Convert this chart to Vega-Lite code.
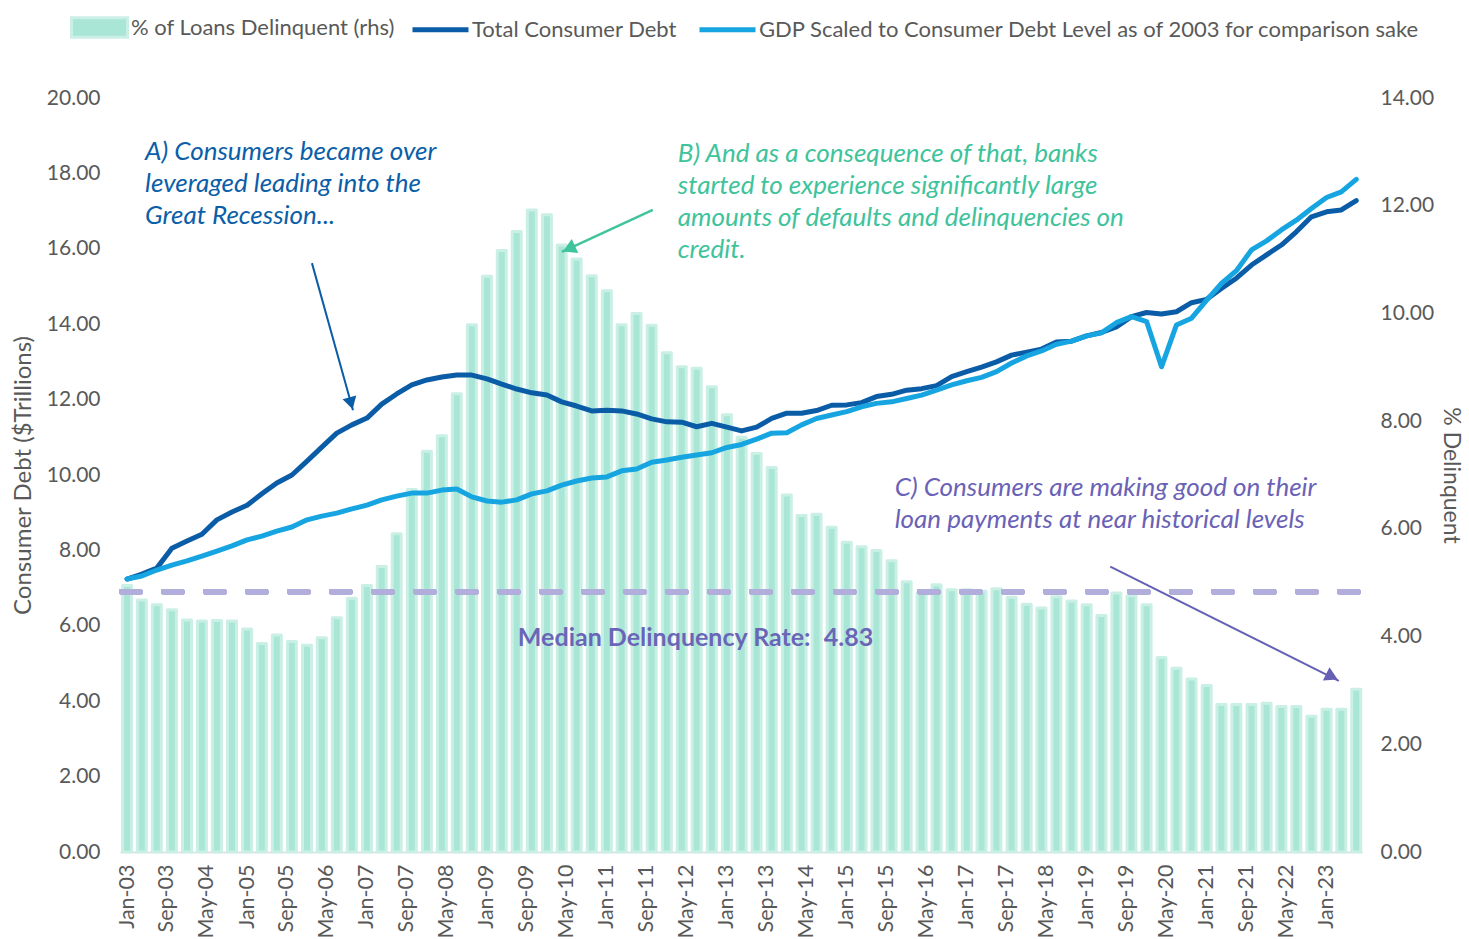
{
  "$schema": "https://vega.github.io/schema/vega-lite/v6.json",
  "width": 1242,
  "height": 754,
  "autosize": {"type": "none"},
  "padding": {"left": 120, "top": 98, "right": 107, "bottom": 87},
  "background": "white",
  "config": {
    "view": {"stroke": null},
    "font": "Lato",
    "axis": {"labelFont": "Lato", "titleFont": "Lato", "labelColor": "#595959", "titleColor": "#595959", "grid": false, "ticks": false, "labelFontSize": 21, "titleFontSize": 24, "titleFontWeight": "normal"},
    "legend": {"labelFont": "Lato", "labelFontSize": 22, "labelColor": "#595959", "padding": 0, "labelLimit": 1000}
  },
  "datasets": {
    "q": [
      {"date": "2003-01-01", "rate": 4.95, "debt": 7.24, "gdp": 7.24},
      {"date": "2003-04-01", "rate": 4.68, "debt": 7.37, "gdp": 7.32},
      {"date": "2003-07-01", "rate": 4.59, "debt": 7.53, "gdp": 7.48},
      {"date": "2003-10-01", "rate": 4.50, "debt": 8.06, "gdp": 7.61},
      {"date": "2004-01-01", "rate": 4.31, "debt": 8.25, "gdp": 7.72},
      {"date": "2004-04-01", "rate": 4.29, "debt": 8.43, "gdp": 7.85},
      {"date": "2004-07-01", "rate": 4.30, "debt": 8.81, "gdp": 7.98},
      {"date": "2004-10-01", "rate": 4.29, "debt": 9.02, "gdp": 8.12},
      {"date": "2005-01-01", "rate": 4.14, "debt": 9.20, "gdp": 8.28},
      {"date": "2005-04-01", "rate": 3.87, "debt": 9.50, "gdp": 8.38},
      {"date": "2005-07-01", "rate": 4.03, "debt": 9.79, "gdp": 8.51},
      {"date": "2005-10-01", "rate": 3.91, "debt": 10.00, "gdp": 8.62},
      {"date": "2006-01-01", "rate": 3.84, "debt": 10.37, "gdp": 8.81},
      {"date": "2006-04-01", "rate": 3.98, "debt": 10.74, "gdp": 8.91},
      {"date": "2006-07-01", "rate": 4.35, "debt": 11.11, "gdp": 8.99},
      {"date": "2006-10-01", "rate": 4.71, "debt": 11.33, "gdp": 9.10},
      {"date": "2007-01-01", "rate": 4.95, "debt": 11.51, "gdp": 9.20},
      {"date": "2007-04-01", "rate": 5.30, "debt": 11.88, "gdp": 9.34},
      {"date": "2007-07-01", "rate": 5.91, "debt": 12.15, "gdp": 9.44},
      {"date": "2007-10-01", "rate": 6.73, "debt": 12.39, "gdp": 9.52},
      {"date": "2008-01-01", "rate": 7.44, "debt": 12.52, "gdp": 9.52},
      {"date": "2008-04-01", "rate": 7.73, "debt": 12.60, "gdp": 9.60},
      {"date": "2008-07-01", "rate": 8.51, "debt": 12.65, "gdp": 9.63},
      {"date": "2008-10-01", "rate": 9.79, "debt": 12.65, "gdp": 9.42},
      {"date": "2009-01-01", "rate": 10.69, "debt": 12.55, "gdp": 9.31},
      {"date": "2009-04-01", "rate": 11.17, "debt": 12.41, "gdp": 9.28},
      {"date": "2009-07-01", "rate": 11.52, "debt": 12.28, "gdp": 9.34},
      {"date": "2009-10-01", "rate": 11.92, "debt": 12.18, "gdp": 9.50},
      {"date": "2010-01-01", "rate": 11.83, "debt": 12.12, "gdp": 9.58},
      {"date": "2010-04-01", "rate": 11.27, "debt": 11.94, "gdp": 9.73},
      {"date": "2010-07-01", "rate": 11.01, "debt": 11.83, "gdp": 9.84},
      {"date": "2010-10-01", "rate": 10.70, "debt": 11.70, "gdp": 9.92},
      {"date": "2011-01-01", "rate": 10.42, "debt": 11.72, "gdp": 9.95},
      {"date": "2011-04-01", "rate": 9.79, "debt": 11.70, "gdp": 10.11},
      {"date": "2011-07-01", "rate": 10.00, "debt": 11.62, "gdp": 10.16},
      {"date": "2011-10-01", "rate": 9.78, "debt": 11.49, "gdp": 10.34},
      {"date": "2012-01-01", "rate": 9.27, "debt": 11.41, "gdp": 10.40},
      {"date": "2012-04-01", "rate": 9.01, "debt": 11.40, "gdp": 10.47},
      {"date": "2012-07-01", "rate": 8.98, "debt": 11.28, "gdp": 10.53},
      {"date": "2012-10-01", "rate": 8.64, "debt": 11.37, "gdp": 10.59},
      {"date": "2013-01-01", "rate": 8.12, "debt": 11.27, "gdp": 10.73},
      {"date": "2013-04-01", "rate": 7.70, "debt": 11.17, "gdp": 10.81},
      {"date": "2013-07-01", "rate": 7.40, "debt": 11.27, "gdp": 10.95},
      {"date": "2013-10-01", "rate": 7.14, "debt": 11.50, "gdp": 11.11},
      {"date": "2014-01-01", "rate": 6.63, "debt": 11.64, "gdp": 11.12},
      {"date": "2014-04-01", "rate": 6.25, "debt": 11.64, "gdp": 11.33},
      {"date": "2014-07-01", "rate": 6.27, "debt": 11.71, "gdp": 11.50},
      {"date": "2014-10-01", "rate": 6.03, "debt": 11.85, "gdp": 11.59},
      {"date": "2015-01-01", "rate": 5.75, "debt": 11.86, "gdp": 11.68},
      {"date": "2015-04-01", "rate": 5.67, "debt": 11.92, "gdp": 11.81},
      {"date": "2015-07-01", "rate": 5.60, "debt": 12.08, "gdp": 11.90},
      {"date": "2015-10-01", "rate": 5.41, "debt": 12.14, "gdp": 11.94},
      {"date": "2016-01-01", "rate": 5.02, "debt": 12.25, "gdp": 12.03},
      {"date": "2016-04-01", "rate": 4.82, "debt": 12.29, "gdp": 12.12},
      {"date": "2016-07-01", "rate": 4.96, "debt": 12.37, "gdp": 12.25},
      {"date": "2016-10-01", "rate": 4.87, "debt": 12.61, "gdp": 12.39},
      {"date": "2017-01-01", "rate": 4.87, "debt": 12.74, "gdp": 12.50},
      {"date": "2017-04-01", "rate": 4.84, "debt": 12.86, "gdp": 12.59},
      {"date": "2017-07-01", "rate": 4.89, "debt": 13.00, "gdp": 12.74},
      {"date": "2017-10-01", "rate": 4.73, "debt": 13.18, "gdp": 12.97},
      {"date": "2018-01-01", "rate": 4.60, "debt": 13.26, "gdp": 13.16},
      {"date": "2018-04-01", "rate": 4.53, "debt": 13.34, "gdp": 13.29},
      {"date": "2018-07-01", "rate": 4.74, "debt": 13.53, "gdp": 13.47},
      {"date": "2018-10-01", "rate": 4.66, "debt": 13.55, "gdp": 13.55},
      {"date": "2019-01-01", "rate": 4.59, "debt": 13.69, "gdp": 13.69},
      {"date": "2019-04-01", "rate": 4.39, "debt": 13.78, "gdp": 13.77},
      {"date": "2019-07-01", "rate": 4.81, "debt": 13.93, "gdp": 14.04},
      {"date": "2019-10-01", "rate": 4.76, "debt": 14.20, "gdp": 14.20},
      {"date": "2020-01-01", "rate": 4.59, "debt": 14.31, "gdp": 14.07},
      {"date": "2020-04-01", "rate": 3.61, "debt": 14.27, "gdp": 12.87},
      {"date": "2020-07-01", "rate": 3.41, "debt": 14.33, "gdp": 13.98},
      {"date": "2020-10-01", "rate": 3.21, "debt": 14.57, "gdp": 14.16},
      {"date": "2021-01-01", "rate": 3.09, "debt": 14.66, "gdp": 14.64},
      {"date": "2021-04-01", "rate": 2.74, "debt": 14.95, "gdp": 15.08},
      {"date": "2021-07-01", "rate": 2.74, "debt": 15.22, "gdp": 15.42},
      {"date": "2021-10-01", "rate": 2.74, "debt": 15.57, "gdp": 15.97},
      {"date": "2022-01-01", "rate": 2.76, "debt": 15.84, "gdp": 16.21},
      {"date": "2022-04-01", "rate": 2.70, "debt": 16.10, "gdp": 16.50},
      {"date": "2022-07-01", "rate": 2.70, "debt": 16.45, "gdp": 16.76},
      {"date": "2022-10-01", "rate": 2.52, "debt": 16.85, "gdp": 17.07},
      {"date": "2023-01-01", "rate": 2.65, "debt": 16.98, "gdp": 17.36},
      {"date": "2023-04-01", "rate": 2.65, "debt": 17.03, "gdp": 17.51},
      {"date": "2023-07-01", "rate": 3.02, "debt": 17.28, "gdp": 17.84}
    ]
  },
  "encoding": {
    "x": {"field": "date", "type": "temporal",
      "scale": {"type": "utc", "padding": 0, "domain": [{"year": 2002, "month": 11, "date": 19, "utc": true}, {"year": 2023, "month": 8, "date": 5, "utc": true}]},
      "axis": {"title": null, "format": "%b-%y", "labelAngle": -90, "labelPadding": 12, "labelOverlap": false, "labelFontSize": 21.5, "domainColor": "#d9d9d9", "domainWidth": 1.5,
        "values": [
          {"year": 2003, "month": 1, "date": 1, "utc": true}, {"year": 2003, "month": 9, "date": 1, "utc": true}, {"year": 2004, "month": 5, "date": 1, "utc": true},
          {"year": 2005, "month": 1, "date": 1, "utc": true}, {"year": 2005, "month": 9, "date": 1, "utc": true}, {"year": 2006, "month": 5, "date": 1, "utc": true},
          {"year": 2007, "month": 1, "date": 1, "utc": true}, {"year": 2007, "month": 9, "date": 1, "utc": true}, {"year": 2008, "month": 5, "date": 1, "utc": true},
          {"year": 2009, "month": 1, "date": 1, "utc": true}, {"year": 2009, "month": 9, "date": 1, "utc": true}, {"year": 2010, "month": 5, "date": 1, "utc": true},
          {"year": 2011, "month": 1, "date": 1, "utc": true}, {"year": 2011, "month": 9, "date": 1, "utc": true}, {"year": 2012, "month": 5, "date": 1, "utc": true},
          {"year": 2013, "month": 1, "date": 1, "utc": true}, {"year": 2013, "month": 9, "date": 1, "utc": true}, {"year": 2014, "month": 5, "date": 1, "utc": true},
          {"year": 2015, "month": 1, "date": 1, "utc": true}, {"year": 2015, "month": 9, "date": 1, "utc": true}, {"year": 2016, "month": 5, "date": 1, "utc": true},
          {"year": 2017, "month": 1, "date": 1, "utc": true}, {"year": 2017, "month": 9, "date": 1, "utc": true}, {"year": 2018, "month": 5, "date": 1, "utc": true},
          {"year": 2019, "month": 1, "date": 1, "utc": true}, {"year": 2019, "month": 9, "date": 1, "utc": true}, {"year": 2020, "month": 5, "date": 1, "utc": true},
          {"year": 2021, "month": 1, "date": 1, "utc": true}, {"year": 2021, "month": 9, "date": 1, "utc": true}, {"year": 2022, "month": 5, "date": 1, "utc": true},
          {"year": 2023, "month": 1, "date": 1, "utc": true}
        ]}}
  },
  "resolve": {"scale": {"y": "independent"}},
  "layer": [
    {
      "data": {"name": "q"},
      "encoding": {
        "y": {"field": "rate", "type": "quantitative", "scale": {"domain": [0, 14]},
          "axis": {"orient": "right", "title": "% Delinquent", "titleFontSize": 23, "values": [0, 2, 4, 6, 8, 10, 12, 14], "format": ".2f", "labelPadding": 18, "titlePadding": 5, "domain": false}}
      },
      "layer": [
        {
          "mark": {"type": "bar", "width": 9, "stroke": "#caf0e6", "strokeWidth": 3, "strokeJoin": "round"},
          "encoding": {
            "fill": {"datum": "% of Loans Delinquent (rhs)", "type": "nominal", "scale": {"range": ["#aae6d5"]},
              "legend": {"orient": "none", "legendX": -50, "legendY": -100, "title": null, "symbolType": "M-1,-0.35H1V0.35H-1Z", "symbolSize": 3136, "symbolStrokeColor": "#caf0e6", "symbolStrokeWidth": 3, "labelOffset": 2}}
          }
        },
        {
          "mark": {"type": "rule", "color": "#b1aedb", "strokeWidth": 5.5, "strokeDash": [18, 24], "strokeCap": "round"},
          "encoding": {
            "x": {"datum": {"year": 2002, "month": 11, "date": 30, "utc": true}, "type": "temporal"},
            "x2": {"datum": {"year": 2023, "month": 7, "date": 25, "utc": true}},
            "y": {"datum": 4.83, "type": "quantitative"}
          }
        }
      ]
    },
    {
      "encoding": {
        "y": {"field": "value", "type": "quantitative", "scale": {"domain": [0, 20]},
          "axis": {"orient": "left", "title": "Consumer Debt ($Trillions)", "values": [0, 2, 4, 6, 8, 10, 12, 14, 16, 18, 20], "format": ".2f", "labelPadding": 20, "titlePadding": 11, "domain": false}}
      },
      "layer": [
        {
          "data": {"name": "q"},
          "transform": [{"fold": ["debt", "gdp"], "as": ["series", "value"]}],
          "mark": {"type": "line", "strokeWidth": 5, "strokeCap": "round", "strokeJoin": "round"},
          "encoding": {
            "stroke": {"field": "series", "type": "nominal", "scale": {"domain": ["debt", "gdp"], "range": ["#0a5ca6", "#16a5e0"]},
              "legend": {"orient": "none", "direction": "horizontal", "legendX": 290, "legendY": -99, "title": null, "symbolType": "stroke", "symbolSize": 3136, "symbolStrokeWidth": 5, "columnPadding": 12, "labelOffset": 1,
                "labelExpr": "datum.value == 'debt' ? 'Total Consumer Debt' : 'GDP Scaled to Consumer Debt Level as of 2003 for comparison sake'"}}
          }
        },
        {
          "data": {"values": [
            {"date": "2003-04-21", "value": 18.57, "label": "A) Consumers became over"},
            {"date": "2003-04-21", "value": 17.72, "label": "leveraged leading into the"},
            {"date": "2003-04-21", "value": 16.87, "label": "Great Recession..."}
          ]},
          "mark": {"type": "text", "align": "left", "baseline": "middle", "font": "Lato", "fontStyle": "italic", "fontSize": 26, "color": "#0b5ea8"},
          "encoding": {"text": {"field": "label"}}
        },
        {
          "data": {"values": [
            {"date": "2012-03-08", "value": 18.51, "label": "B) And as a consequence of that, banks"},
            {"date": "2012-03-08", "value": 17.67, "label": "started to experience significantly large"},
            {"date": "2012-03-08", "value": 16.82, "label": "amounts of defaults and delinquencies on"},
            {"date": "2012-03-08", "value": 15.97, "label": "credit."}
          ]},
          "mark": {"type": "text", "align": "left", "baseline": "middle", "font": "Lato", "fontStyle": "italic", "fontSize": 26, "color": "#3ec39b"},
          "encoding": {"text": {"field": "label"}}
        },
        {
          "data": {"values": [
            {"date": "2015-10-20", "value": 9.66, "label": "C) Consumers are making good on their"},
            {"date": "2015-10-20", "value": 8.81, "label": "loan payments at near historical levels"}
          ]},
          "mark": {"type": "text", "align": "left", "baseline": "middle", "font": "Lato", "fontStyle": "italic", "fontSize": 26, "color": "#6a62b6"},
          "encoding": {"text": {"field": "label"}}
        },
        {
          "data": {"values": [
            {"date": "2009-07-08", "value": 5.68, "label": "Median Delinquency Rate:"},
            {"date": "2014-08-14", "value": 5.68, "label": "4.83"}
          ]},
          "mark": {"type": "text", "align": "left", "baseline": "middle", "font": "Lato", "fontWeight": "bold", "fontSize": 25, "color": "#6a66b7"},
          "encoding": {"text": {"field": "label"}}
        },
        {
          "data": {"values": [{"date": "2006-01-31", "value": 15.62, "date2": "2006-10-08", "value2": 11.72}], "format": {"parse": {"date": "date", "date2": "date"}}},
          "mark": {"type": "rule", "color": "#0a5ca6", "strokeWidth": 2},
          "encoding": {"x2": {"field": "date2"}, "y2": {"field": "value2"}}
        },
        {
          "data": {"values": [{"date": "2006-09-26", "value": 11.90}]},
          "mark": {"type": "point", "shape": "triangle-up", "filled": true, "size": 200, "angle": 164.4, "color": "#0a5ca6", "opacity": 1},
          "encoding": {}
        },
        {
          "data": {"values": [{"date": "2011-10-08", "value": 17.03, "date2": "2010-04-02", "value2": 15.92}], "format": {"parse": {"date": "date", "date2": "date"}}},
          "mark": {"type": "rule", "color": "#40c49c", "strokeWidth": 2.5},
          "encoding": {"x2": {"field": "date2"}, "y2": {"field": "value2"}}
        },
        {
          "data": {"values": [{"date": "2010-05-15", "value": 16.0}]},
          "mark": {"type": "point", "shape": "triangle-up", "filled": true, "size": 240, "angle": 245.2, "color": "#40c49c", "opacity": 1},
          "encoding": {}
        },
        {
          "data": {"values": [{"date": "2019-05-25", "value": 7.57, "date2": "2023-03-17", "value2": 4.54}], "format": {"parse": {"date": "date", "date2": "date"}}},
          "mark": {"type": "rule", "color": "#6660b5", "strokeWidth": 2},
          "encoding": {"x2": {"field": "date2"}, "y2": {"field": "value2"}}
        },
        {
          "data": {"values": [{"date": "2023-02-03", "value": 4.65}]},
          "mark": {"type": "point", "shape": "triangle-up", "filled": true, "size": 220, "angle": 116.5, "color": "#6660b5", "opacity": 1},
          "encoding": {}
        }
      ]
    }
  ]
}
